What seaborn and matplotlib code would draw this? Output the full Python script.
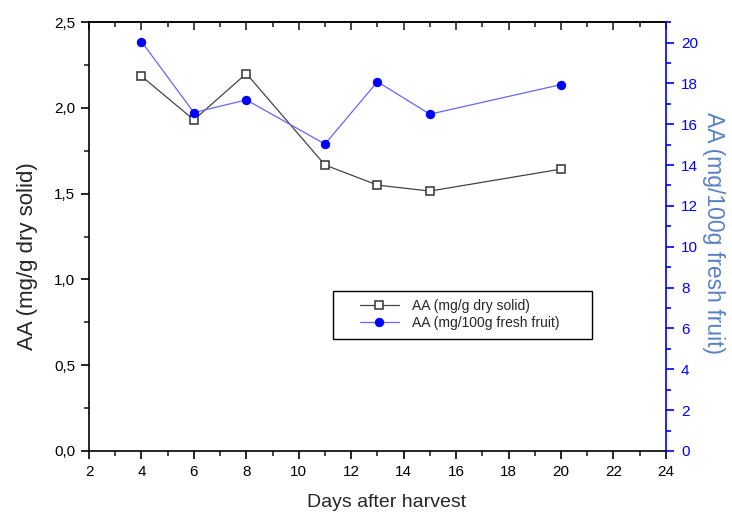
import matplotlib
matplotlib.use("Agg")
import matplotlib.pyplot as plt
import seaborn as sns
import pandas as pd
from matplotlib.ticker import MultipleLocator, FuncFormatter
from matplotlib.patches import Rectangle

# Données
days = [4, 6, 8, 11, 13, 15, 20]
aa_dry = [2.185, 1.93, 2.20, 1.667, 1.55, 1.515, 1.643]
aa_fresh = [20.05, 16.57, 17.19, 15.03, 18.08, 16.49, 17.94]

label_dry = "AA (mg/g dry solid)"
label_fresh = "AA (mg/100g fresh fruit)"

df = pd.DataFrame({"Days": days, "dry": aa_dry, "fresh": aa_fresh})

sns.set_style("ticks")
plt.rcParams['font.family'] = ['Liberation Sans', 'DejaVu Sans']

fig = plt.figure(figsize=(7.32, 5.14), dpi=100)
ax = fig.add_axes([0.1216, 0.1226, 0.788, 0.8344])
ax2 = ax.twinx()

# Série 1 : matière sèche (axe gauche)
sns.lineplot(data=df, x="Days", y="dry", ax=ax, color='#444444', lw=0.9,
             marker='s', markersize=6, markerfacecolor='white',
             markeredgecolor='#333333', markeredgewidth=1.1, label=label_dry, legend=False)

# Série 2 : fruit frais (axe droit)
sns.lineplot(data=df, x="Days", y="fresh", ax=ax2, color='#6666ff', lw=0.9,
             marker='o', markersize=6, markerfacecolor='#0000ff',
             markeredgecolor='#0000ff', label=label_fresh, legend=False)

comma = FuncFormatter(lambda v, p: f"{v:.1f}".replace('.', ','))

ax.set_xlim(2, 24)
ax.set_ylim(0, 2.5)
ax2.set_ylim(0, 21)
ax.xaxis.set_major_locator(MultipleLocator(2))
ax.xaxis.set_minor_locator(MultipleLocator(1))
ax.yaxis.set_major_locator(MultipleLocator(0.5))
ax.yaxis.set_minor_locator(MultipleLocator(0.25))
ax.yaxis.set_major_formatter(comma)
ax2.yaxis.set_major_locator(MultipleLocator(2))
ax2.yaxis.set_minor_locator(MultipleLocator(1))

ax.tick_params(axis='both', which='major', direction='out', length=6, width=1.2,
               labelsize=11, colors='black', top=False, right=False, pad=4)
ax.tick_params(axis='both', which='minor', direction='out', length=3.5, width=1.2,
               top=False, right=False)
ax2.tick_params(axis='y', which='major', direction='out', length=6, width=1.2,
                labelsize=11, colors='#0000ff', pad=5)
ax2.tick_params(axis='y', which='minor', direction='out', length=3.5, width=1.2,
                colors='#0000ff')

# Ticks du haut vers l'intérieur
top = ax.secondary_xaxis('top')
top.xaxis.set_major_locator(MultipleLocator(2))
top.xaxis.set_minor_locator(MultipleLocator(1))
top.tick_params(which='major', direction='in', length=6, width=1.2, labeltop=False)
top.tick_params(which='minor', direction='in', length=3.5, width=1.2)
top.spines['top'].set_linewidth(1.2)

for s in ['left', 'bottom', 'top']:
    ax.spines[s].set_linewidth(1.2)
    ax.spines[s].set_color('black')
ax.spines['right'].set_visible(False)
for s in ['left', 'bottom', 'top']:
    ax2.spines[s].set_visible(False)
ax2.spines['right'].set_color('#0000ff')
ax2.spines['right'].set_linewidth(1.2)

# Titres d'axes (légèrement décalés comme dans Origin)
ax.set_xlabel("Days after harvest", fontsize=14)
ax.xaxis.set_label_coords(0.5165, -0.100)
ax.set_ylabel(label_dry, fontsize=16)
ax.yaxis.set_label_coords(-0.088, 0.4545)
ax2.set_ylabel(label_fresh, fontsize=16.5, color='#5a82c4', rotation=270, va='bottom')
ax2.yaxis.set_label_coords(1.062, 0.509)

# Légende : cadre dessiné à part pour garder la marge gauche
h1, l1 = ax.get_legend_handles_labels()
h2, l2 = ax2.get_legend_handles_labels()
frame = Rectangle((0.423, 0.261), 0.449, 0.112, transform=ax2.transAxes,
                  facecolor='white', edgecolor='black', lw=1.0, zorder=4)
ax2.add_patch(frame)
leg = ax2.legend(h1 + h2, l1 + l2, loc='center left',
                 bbox_to_anchor=(0.4697, 0.318), fontsize=10, frameon=False,
                 handlelength=2.8, handletextpad=0.94, borderpad=0,
                 labelspacing=0.25, borderaxespad=0)
leg.set_zorder(5)

fig.savefig("out.png", dpi=100)
